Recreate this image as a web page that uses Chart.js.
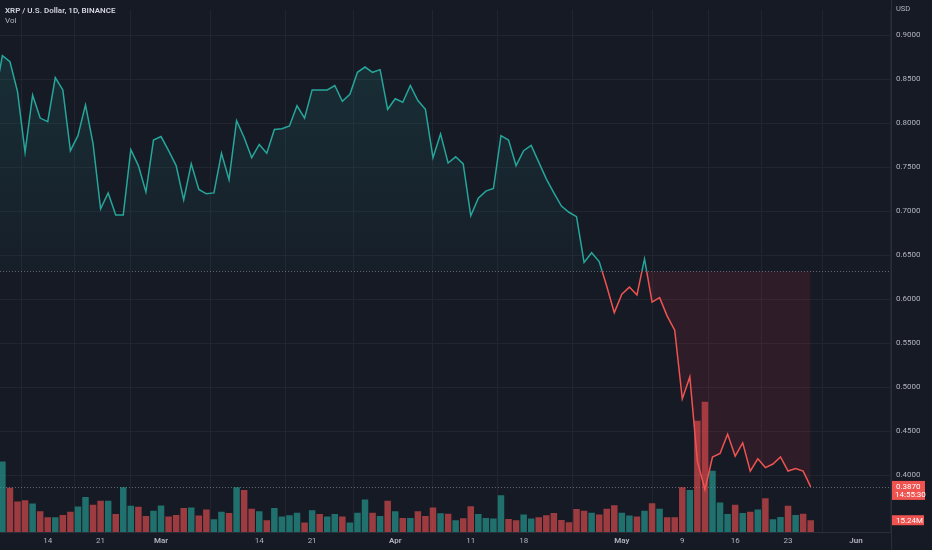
<!DOCTYPE html>
<html>
<head>
<meta charset="utf-8">
<script src="https://cdn.jsdelivr.net/npm/chart.js@4.4.1/dist/chart.umd.min.js"></script>
<style>
html,body{margin:0;padding:0;background:#161a25;overflow:hidden}
#wrap{width:932px;height:550px;position:relative}
</style>
</head>
<body>
<div id="wrap"><canvas id="c" width="932" height="550"></canvas></div>
<script>
// ---------- DATA ----------
const titleText = 'XRP / U.S. Dollar, 1D, BINANCE';
const volText = 'Vol';
const currencyText = 'USD';
const countdownText = '14:55:30';
const startDate = '2022-02-07'; // day index 0

// daily closes, Feb 7 2022 .. May 26 2022 (day index 0..108)
const prices = [
  0.830,
  0.877, 0.870, 0.836, 0.767, 0.832, 0.806, 0.802, 0.852, 0.838, 0.769,
  0.786, 0.821, 0.777, 0.703, 0.721, 0.696, 0.696, 0.770, 0.752, 0.722,
  0.781, 0.785, 0.769, 0.752, 0.713, 0.754, 0.725, 0.720, 0.721, 0.766,
  0.736, 0.803, 0.784, 0.761, 0.776, 0.766, 0.793, 0.794, 0.797, 0.820,
  0.806, 0.838, 0.838, 0.838, 0.843, 0.825, 0.833, 0.858, 0.864, 0.858,
  0.861, 0.816, 0.828, 0.824, 0.843, 0.826, 0.816, 0.761, 0.788, 0.755,
  0.762, 0.754, 0.695, 0.715, 0.723, 0.726, 0.786, 0.781, 0.752, 0.769,
  0.775, 0.756, 0.737, 0.721, 0.706, 0.699, 0.694, 0.642, 0.653, 0.643,
  0.615, 0.585, 0.606, 0.614, 0.605, 0.646, 0.597, 0.602, 0.581, 0.565,
  0.487, 0.512, 0.416, 0.384, 0.421, 0.425, 0.447, 0.422, 0.437, 0.405,
  0.419, 0.409, 0.413, 0.421, 0.405, 0.408, 0.405, 0.387
];

// daily volume in millions
const volumes = [
  38.0,
  91.1, 57.2, 39.4, 41.0, 36.8, 26.7, 19.1, 19.1, 22.0, 26.3,
  33.0, 45.3, 35.2, 40.3, 40.3, 23.2, 58.0, 33.9, 32.6, 20.7,
  27.6, 34.3, 19.9, 22.0, 30.9, 31.8, 21.2, 29.2, 16.5, 26.3,
  24.5, 58.0, 54.2, 30.1, 26.7, 15.2, 30.9, 19.9, 21.6, 25.0,
  12.3, 28.3, 23.2, 19.9, 23.2, 19.9, 12.3, 25.0, 41.9, 25.0,
  20.7, 40.3, 26.7, 18.2, 18.2, 26.7, 20.7, 31.8, 24.1, 23.7,
  15.2, 17.8, 33.4, 23.2, 18.2, 17.4, 47.4, 16.9, 15.2, 22.5,
  17.4, 19.1, 21.6, 24.5, 15.6, 12.7, 29.6, 27.6, 25.0, 22.5,
  30.1, 34.7, 25.0, 21.2, 19.9, 27.6, 37.2, 30.1, 19.1, 19.1,
  58.0, 54.2, 143.9, 168.5, 79.1, 38.1, 23.2, 35.2, 24.5, 26.3,
  29.2, 43.6, 16.5, 19.4, 33.9, 22.0, 23.7, 15.24
];

// candle direction for each volume bar: u = up, d = down
const volumeDirection = [
  'd',
  'u','d','d','d','u','d','d','u','d','d',
  'u','u','d','d','u','d','u','u','d','d',
  'u','u','d','d','d','u','d','d','u','u',
  'd','u','d','d','u','d','u','u','u','u',
  'd','u','d','u','u','d','u','u','u','d',
  'u','d','u','d','u','d','d','d','u','d',
  'u','d','d','u','u','u','u','d','d','u',
  'u','d','d','d','d','d','d','d','u','d',
  'd','d','u','u','d','u','d','u','d','d',
  'd','u','d','d','u','u','u','d','u','d',
  'u','d','u','u','d','u','d','d'
];

const tickDays   = [7, 14, 22, 35, 42, 53, 63, 70, 83, 91, 98, 105, 114];
const tickLabels = ['14', '21', 'Mar', '14', '21', 'Apr', '11', '18', 'May', '9', '16', '23', 'Jun'];
const monthLabels = ['Mar', 'Apr', 'May', 'Jun'];
const priceTicks = [0.40, 0.45, 0.50, 0.55, 0.60, 0.65, 0.70, 0.75, 0.80, 0.85, 0.90];
const baselinePrice = 0.632;
const redShadeFromDay = 86; // shaded area below baseline starts at this day

// visible ranges
const dayRange = [0.682, 118.63];
const priceRange = [0.3358, 0.929];
const volumeRange = [0, 675.6];

// ---------- STYLE ----------
const BG = '#161a25';
const GRID = '#21252f';
const TEXT = '#b2b5be';
const UP = '#26a69a';
const DOWN = '#ef5350';
const FONT = 'Roboto, "Noto Sans", sans-serif';

const pricePoints = prices.map((p, i) => ({ x: i, y: p }));
const shadePoints = prices.map((p, i) => ({ x: i, y: i >= redShadeFromDay ? p : null }));
const volumePoints = volumes.map((v, i) => ({ x: i, y: v }));
const volumeColors = volumeDirection.map(d => d === 'u' ? 'rgba(38,166,154,0.62)' : 'rgba(239,83,80,0.62)');

function greenFill(ctx) {
  const chart = ctx.chart;
  const area = chart.chartArea;
  if (!area) return 'rgba(38,166,154,0.08)';
  const ys = chart.scales.y;
  const top = ys.getPixelForValue(priceRange[1]);
  const bot = ys.getPixelForValue(baselinePrice);
  const g = chart.ctx.createLinearGradient(0, top, 0, bot);
  g.addColorStop(0, 'rgba(38,166,154,0.17)');
  g.addColorStop(1, 'rgba(38,166,154,0.03)');
  return g;
}

const bgPlugin = {
  id: 'bg',
  beforeDraw(chart) {
    const c = chart.ctx;
    c.save();
    c.fillStyle = BG;
    c.fillRect(0, 0, chart.width, chart.height);
    c.restore();
  },
  beforeDatasetsDraw(chart) {
    const c = chart.ctx, a = chart.chartArea, ys = chart.scales.y;
    c.save();
    c.strokeStyle = 'rgba(125,128,140,0.75)';
    c.lineWidth = 1;
    c.setLineDash([1, 2]);
    [baselinePrice, prices[prices.length - 1]].forEach(v => {
      const y = Math.round(ys.getPixelForValue(v)) + 0.5;
      c.beginPath();
      c.moveTo(a.left, y);
      c.lineTo(a.right, y);
      c.stroke();
    });
    c.restore();
  }
};

const clipPlugin = {
  id: 'baselineClip',
  beforeDatasetDraw(chart, args) {
    const ds = chart.data.datasets[args.index];
    if (!ds.clipSide) return;
    const c = chart.ctx, a = chart.chartArea;
    const yb = chart.scales.y.getPixelForValue(baselinePrice);
    c.save();
    c.beginPath();
    if (ds.clipSide === 'above') c.rect(a.left, a.top - 5, a.right - a.left, yb - a.top + 5);
    else c.rect(a.left, yb, a.right - a.left, a.bottom - yb + 5);
    c.clip();
  },
  afterDatasetDraw(chart, args) {
    const ds = chart.data.datasets[args.index];
    if (ds.clipSide) chart.ctx.restore();
  }
};

const overlayPlugin = {
  id: 'overlay',
  afterDraw(chart) {
    const c = chart.ctx, a = chart.chartArea;
    const ys = chart.scales.y, yv = chart.scales.yv;
    c.save();
    c.strokeStyle = '#2a2e39';
    c.lineWidth = 1;
    c.beginPath();
    c.moveTo(Math.round(a.right) + 0.5, 0);
    c.lineTo(Math.round(a.right) + 0.5, chart.height);
    c.stroke();

    c.textBaseline = 'middle';
    c.textAlign = 'left';
    c.fillStyle = '#d1d4dc';
    c.font = '600 8px ' + FONT;
    c.fillText(titleText, 5, 11);
    c.fillStyle = TEXT;
    c.font = '8px ' + FONT;
    c.fillText(volText, 5, 21);

    c.fillStyle = TEXT;
    c.font = '7.5px ' + FONT;
    c.fillText(currencyText, a.right + 5, 9);

    const last = prices[prices.length - 1];
    const yp = ys.getPixelForValue(last);
    c.fillStyle = DOWN;
    c.fillRect(a.right + 1, yp - 6, 33, 19);
    c.fillStyle = '#ffffff';
    c.font = '8px ' + FONT;
    c.fillText(last.toFixed(4), a.right + 5, yp);
    c.fillText(countdownText, a.right + 4, yp + 8.5);

    const lv = volumes[volumes.length - 1];
    const yvp = yv.getPixelForValue(lv);
    c.fillStyle = DOWN;
    c.fillRect(a.right + 1, yvp - 5, 32, 10);
    c.fillStyle = '#ffffff';
    c.fillText(lv.toFixed(2) + 'M', a.right + 5, yvp + 0.5);
    c.restore();
  }
};

const ctx = document.getElementById('c').getContext('2d');
new Chart(ctx, {
  type: 'line',
  data: {
    datasets: [
      {
        label: 'XRP up',
        data: pricePoints,
        yAxisID: 'y',
        xAxisID: 'x',
        borderColor: UP,
        borderWidth: 1.5,
        pointRadius: 0,
        tension: 0,
        backgroundColor: greenFill,
        fill: { target: { value: baselinePrice }, below: 'rgba(0,0,0,0)' },
        clipSide: 'above',
        order: 1
      },
      {
        label: 'XRP down',
        data: pricePoints,
        yAxisID: 'y',
        xAxisID: 'x',
        borderColor: DOWN,
        borderWidth: 1.5,
        pointRadius: 0,
        tension: 0,
        fill: false,
        clipSide: 'below',
        order: 1
      },
      {
        label: 'shade',
        data: shadePoints,
        yAxisID: 'y',
        xAxisID: 'x',
        borderWidth: 0,
        borderColor: 'rgba(0,0,0,0)',
        pointRadius: 0,
        tension: 0,
        spanGaps: false,
        backgroundColor: 'rgba(242,54,69,0.11)',
        fill: { target: { value: baselinePrice }, above: 'rgba(0,0,0,0)' },
        order: 1.5
      },
      {
        type: 'bar',
        label: 'Vol',
        data: volumePoints,
        yAxisID: 'yv',
        xAxisID: 'x',
        backgroundColor: volumeColors,
        borderWidth: 0,
        barPercentage: 0.86,
        categoryPercentage: 1.0,
        order: 2
      }
    ]
  },
  options: {
    responsive: false,
    animation: false,
    devicePixelRatio: 1,
    layout: { padding: 0 },
    plugins: { legend: { display: false }, tooltip: { enabled: false } },
    scales: {
      x: {
        type: 'linear',
        position: 'bottom',
        min: dayRange[0],
        max: dayRange[1],
        bounds: 'data',
        offset: false,
        afterBuildTicks(scale) { scale.ticks = tickDays.map(v => ({ value: v })); },
        afterFit(scale) { scale.height = 18; },
        grid: { color: GRID, drawTicks: false, lineWidth: 1 },
        border: { display: true, color: '#2a2e39' },
        ticks: {
          autoSkip: false,
          maxRotation: 0,
          padding: 4,
          color: TEXT,
          font: (c) => ({ family: FONT, size: 8, weight: (c.tick && monthLabels.includes(tickLabels[tickDays.indexOf(c.tick.value)])) ? '600' : 'normal' }),
          callback: (v) => tickLabels[tickDays.indexOf(v)]
        }
      },
      y: {
        type: 'linear',
        position: 'right',
        min: priceRange[0],
        max: priceRange[1],
        bounds: 'data',
        afterBuildTicks(scale) { scale.ticks = priceTicks.map(v => ({ value: v })); },
        afterFit(scale) { scale.width = 41; },
        grid: { color: GRID, drawTicks: false, lineWidth: 1 },
        border: { display: true, color: '#2a2e39' },
        ticks: {
          padding: 5,
          color: TEXT,
          font: { family: FONT, size: 8 },
          callback: (v) => v.toFixed(4)
        }
      },
      yv: {
        type: 'linear',
        display: false,
        min: volumeRange[0],
        max: volumeRange[1],
        grid: { display: false }
      }
    }
  },
  plugins: [bgPlugin, clipPlugin, overlayPlugin]
});
</script>
</body>
</html>
